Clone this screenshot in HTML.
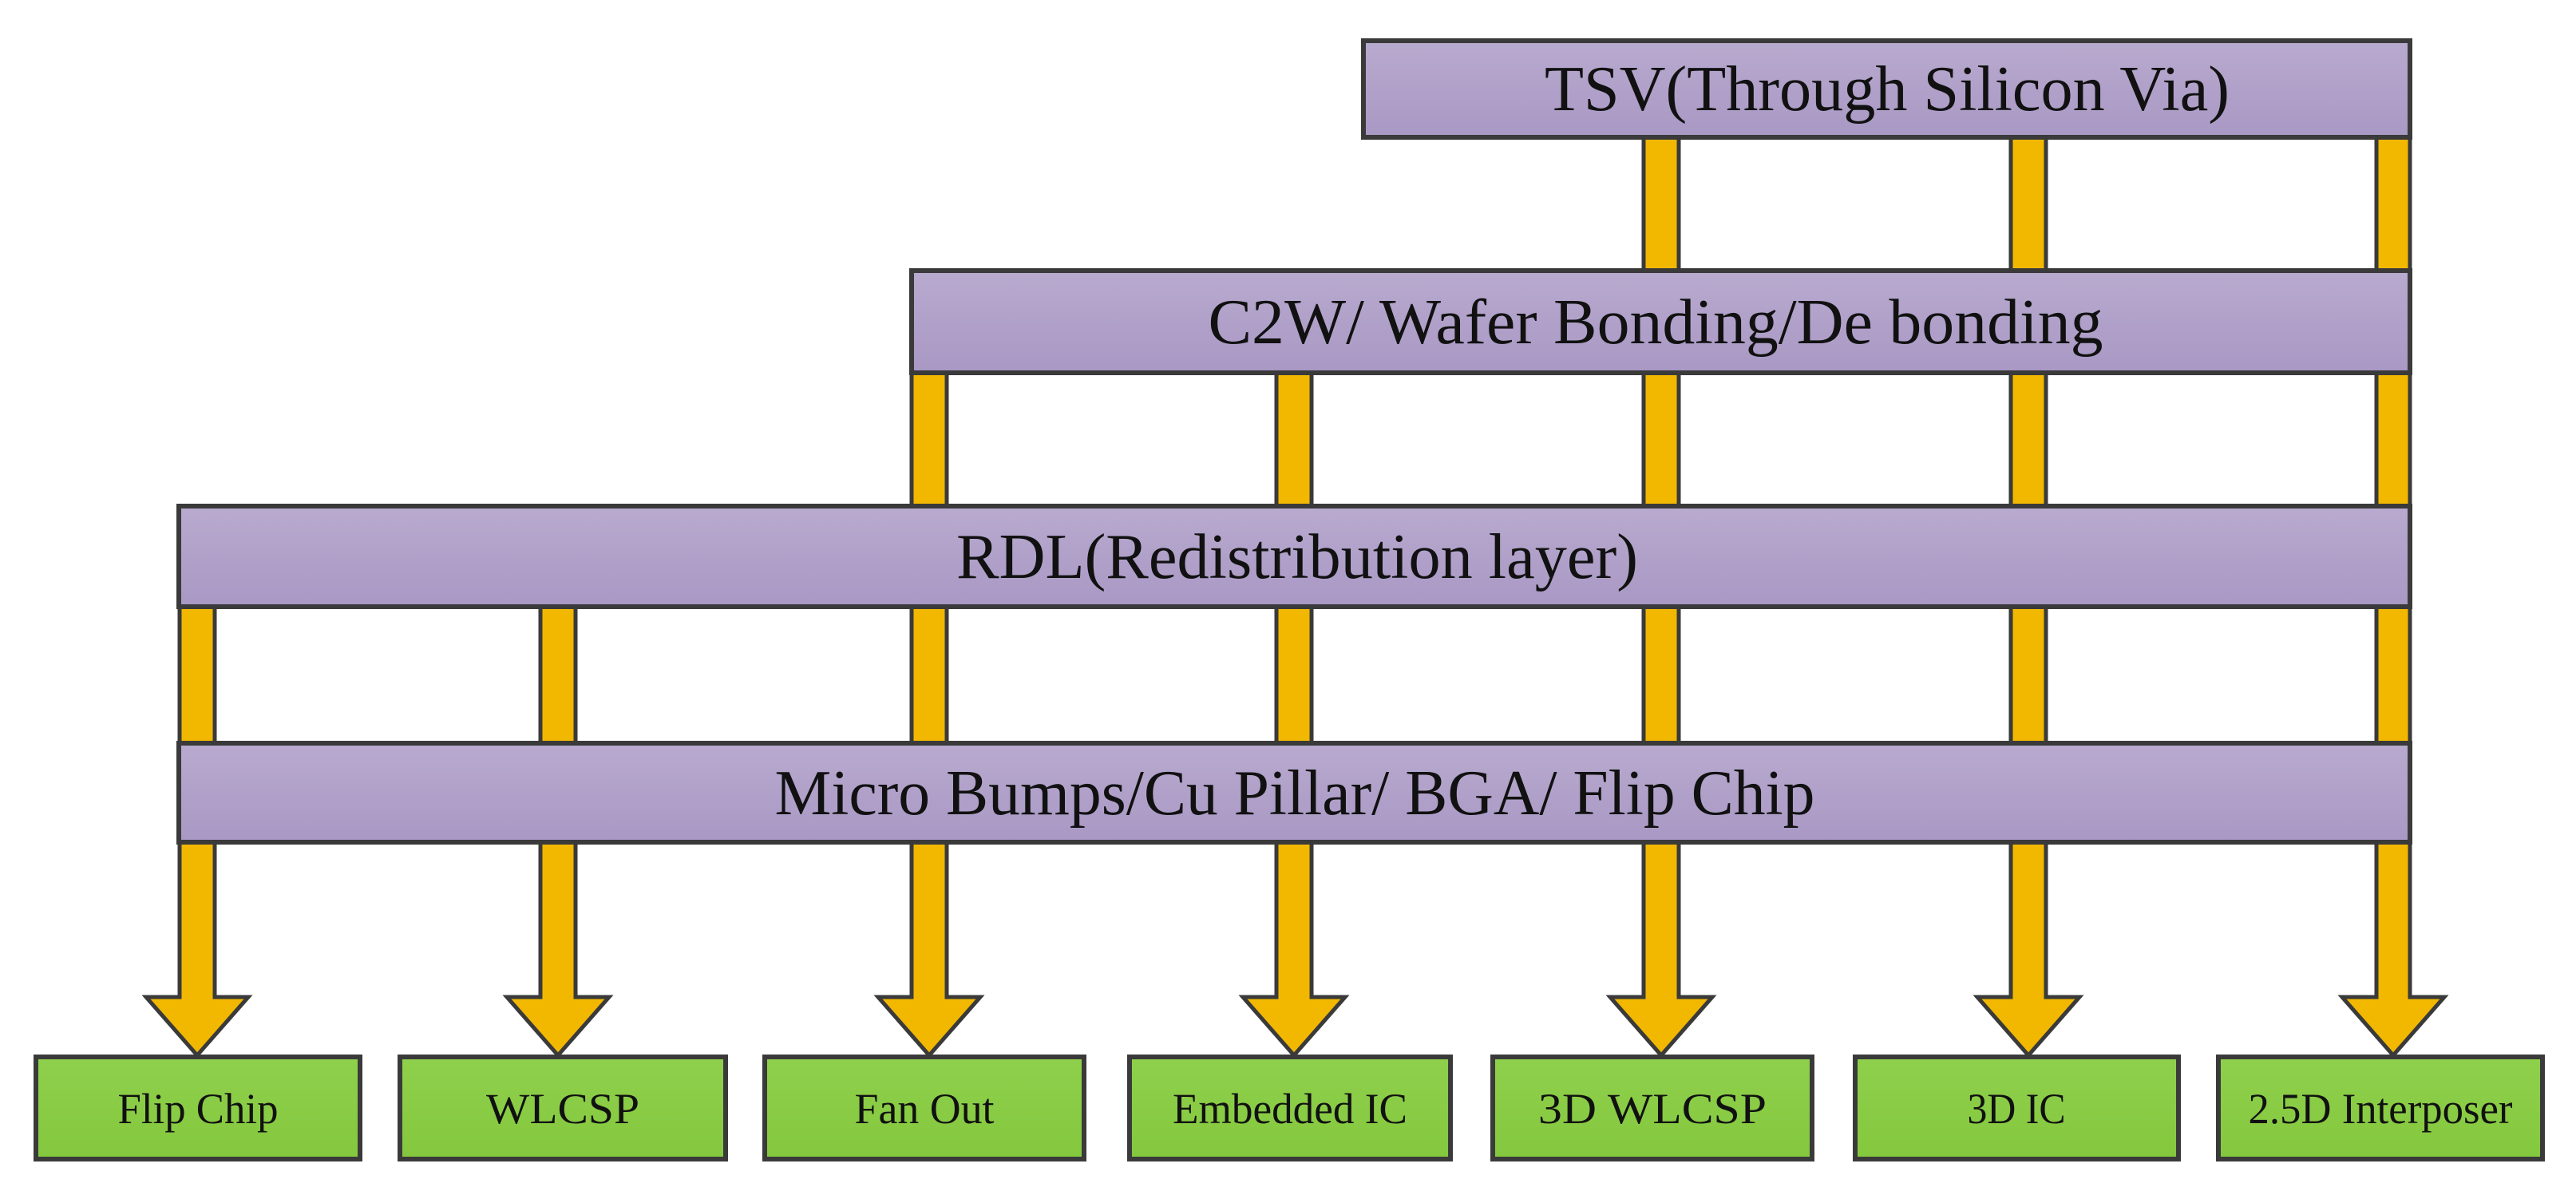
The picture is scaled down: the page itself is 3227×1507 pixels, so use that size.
<!DOCTYPE html>
<html><head><meta charset="utf-8"><style>
html,body{margin:0;padding:0;background:#fff;}
svg{display:block;}
text{font-family:"Liberation Serif",serif;fill:#111;}
</style></head><body>
<svg width="3227" height="1507" viewBox="0 0 3227 1507" xmlns="http://www.w3.org/2000/svg">
<defs>
<linearGradient id="pg" x1="0" y1="0" x2="0" y2="1"><stop offset="0" stop-color="#b9aacf"/><stop offset="1" stop-color="#a898c4"/></linearGradient>
<linearGradient id="gg" x1="0" y1="0" x2="0" y2="1"><stop offset="0" stop-color="#8fd04c"/><stop offset="1" stop-color="#84c83e"/></linearGradient>
</defs>
<g fill="#f2b800" stroke="#3a3a3a" stroke-width="5" stroke-linejoin="miter">
<polygon points="225,700 269,700 269,1249 311,1249 247,1322 183,1249 225,1249"/>
<polygon points="677,700 721,700 721,1249 763,1249 699,1322 635,1249 677,1249"/>
<polygon points="1142,400 1186,400 1186,1249 1228,1249 1164,1322 1100,1249 1142,1249"/>
<polygon points="1599,400 1643,400 1643,1249 1685,1249 1621,1322 1557,1249 1599,1249"/>
<polygon points="2059,110 2103,110 2103,1249 2145,1249 2081,1322 2017,1249 2059,1249"/>
<polygon points="2519,110 2563,110 2563,1249 2605,1249 2541,1322 2477,1249 2519,1249"/>
<polygon points="2977,110 3019,110 3019,1249 3062,1249 2998,1322 2934,1249 2977,1249"/>
</g>
<g fill="url(#pg)" stroke="#3a3a3a" stroke-width="6">
<rect x="1708" y="51" width="1311" height="121"/>
<rect x="1142" y="339" width="1877" height="128"/>
<rect x="224" y="634" width="2795" height="126"/>
<rect x="224" y="931" width="2795" height="124"/>
</g>
<g font-size="80" text-anchor="middle">
<text x="2364" y="138" textLength="858" lengthAdjust="spacingAndGlyphs">TSV(Through Silicon Via)</text>
<text x="2074" y="430" textLength="1121" lengthAdjust="spacingAndGlyphs">C2W/ Wafer Bonding/De bonding</text>
<text x="1625" y="724" textLength="854" lengthAdjust="spacingAndGlyphs">RDL(Redistribution layer)</text>
<text x="1622" y="1020" textLength="1303" lengthAdjust="spacingAndGlyphs">Micro Bumps/Cu Pillar/ BGA/ Flip Chip</text>
</g>
<g fill="url(#gg)" stroke="#3a3a3a" stroke-width="6">
<rect x="45" y="1324" width="406" height="128"/>
<rect x="501" y="1324" width="408" height="128"/>
<rect x="958" y="1324" width="400" height="128"/>
<rect x="1415" y="1324" width="402" height="128"/>
<rect x="1870" y="1324" width="400" height="128"/>
<rect x="2324" y="1324" width="405" height="128"/>
<rect x="2779" y="1324" width="406" height="128"/>
</g>
<g font-size="54" text-anchor="middle">
<text x="248" y="1407" textLength="201" lengthAdjust="spacingAndGlyphs">Flip Chip</text>
<text x="705" y="1407" textLength="192" lengthAdjust="spacingAndGlyphs">WLCSP</text>
<text x="1158" y="1407" textLength="175" lengthAdjust="spacingAndGlyphs">Fan Out</text>
<text x="1616" y="1407" textLength="294" lengthAdjust="spacingAndGlyphs">Embedded IC</text>
<text x="2070" y="1407" textLength="286" lengthAdjust="spacingAndGlyphs">3D WLCSP</text>
<text x="2526" y="1407" textLength="123" lengthAdjust="spacingAndGlyphs">3D IC</text>
<text x="2982" y="1407" textLength="331" lengthAdjust="spacingAndGlyphs">2.5D Interposer</text>
</g>
</svg>
</body></html>
